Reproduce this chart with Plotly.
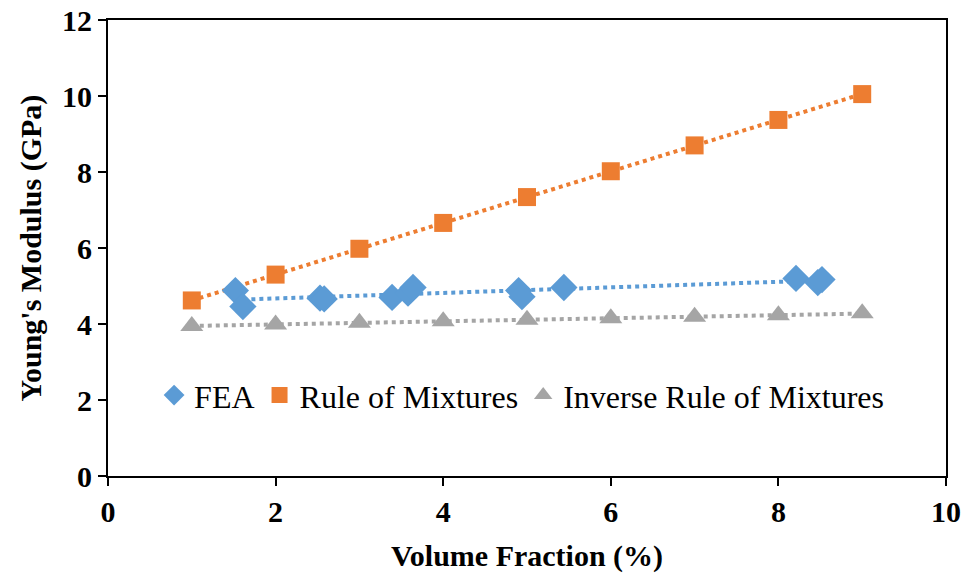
import numpy as np
import plotly.graph_objects as go

# Data
fea_x = [1.52, 1.61, 2.53, 2.58, 3.39, 3.58, 3.64, 4.90, 4.94, 5.44, 8.21, 8.47, 8.52]
fea_y = [4.88, 4.46, 4.68, 4.66, 4.70, 4.81, 4.96, 4.88, 4.72, 4.96, 5.20, 5.09, 5.17]

vf = [1, 2, 3, 4, 5, 6, 7, 8, 9]
rom_y = [4.62, 5.30, 5.98, 6.66, 7.34, 8.02, 8.70, 9.37, 10.05]
irom_y = [3.95, 3.99, 4.03, 4.07, 4.11, 4.15, 4.19, 4.23, 4.28]

x_ticks = [0, 2, 4, 6, 8, 10]
y_ticks = [0, 2, 4, 6, 8, 10, 12]

BLUE = "#5B9BD5"
ORANGE = "#ED7D31"
GRAY = "#A5A5A5"
FONT = "Liberation Serif"

def trend(xs, ys):
    m, b = np.polyfit(xs, ys, 1)
    xx = np.array([min(xs), max(xs)])
    return xx, m * xx + b

fig = go.Figure()

for xs, ys, col in [(fea_x, fea_y, BLUE), (vf, rom_y, ORANGE), (vf, irom_y, GRAY)]:
    tx, ty = trend(xs, ys)
    fig.add_trace(go.Scatter(x=tx, y=ty, mode="lines", showlegend=False,
                             line=dict(color=col, width=4, dash="4px,4px"),
                             hoverinfo="skip"))

fig.add_trace(go.Scatter(x=fea_x, y=fea_y, mode="markers", name="FEA",
                         marker=dict(symbol="diamond", size=21, color=BLUE)))
fig.add_trace(go.Scatter(x=vf, y=rom_y, mode="markers", name="Rule of Mixtures",
                         marker=dict(symbol="square", size=18, color=ORANGE)))
fig.add_trace(go.Scatter(x=vf, y=irom_y, mode="markers", name="Inverse Rule of Mixtures",
                         marker=dict(symbol="triangle-up", size=20, color=GRAY)))

axis_common = dict(
    showgrid=False, zeroline=False, showline=True, linecolor="black", linewidth=2,
    mirror=True, ticks="outside", ticklen=8, tickcolor="black", tickwidth=1.5,
    tickfont=dict(family=FONT, size=30, color="black"), automargin=False,
)

fig.update_xaxes(range=[0, 10], tickvals=x_ticks,
                 ticktext=[f"<b>{v}</b>" for v in x_ticks], ticklabelstandoff=0,
                 title=dict(text="<b>Volume Fraction (%)</b>", standoff=18,
                            font=dict(family=FONT, size=30, color="black")),
                 **axis_common)
fig.update_yaxes(range=[0, 12], tickvals=y_ticks,
                 ticktext=[f"<b>{v}</b>" for v in y_ticks],
                 title=dict(text="<b>Young's Modulus (GPa)</b>", standoff=12,
                            font=dict(family=FONT, size=30, color="black")),
                 **axis_common)

fig.update_layout(
    width=968, height=574,
    margin=dict(l=108, r=22, t=20, b=98),
    plot_bgcolor="white", paper_bgcolor="white",
    font=dict(family=FONT, color="black"),
    legend=dict(orientation="h", x=0.055, y=0.177, xanchor="left", yanchor="middle",
                font=dict(family=FONT, size=32, color="black"),
                bgcolor="rgba(0,0,0,0)", itemwidth=30),
)

fig.write_html("out.html", config={"displayModeBar": False},
               post_script="document.body.style.margin='0';document.body.style.overflow='hidden';")
